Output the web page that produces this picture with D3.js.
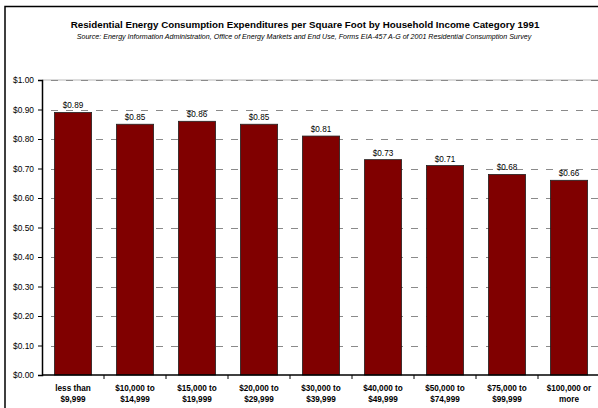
<!DOCTYPE html>
<html>
<head>
<meta charset="utf-8">
<script src="https://cdn.jsdelivr.net/npm/d3@7/dist/d3.min.js"></script>
<style>
  html, body { margin: 0; padding: 0; background: #fff; }
  svg { display: block; font-family: "Liberation Sans", Arial, sans-serif; }
</style>
</head>
<body>
<svg id="chart" width="598" height="408"></svg>
<script>
// Income brackets (two-line labels) and expenditure per square foot, 1991
const categories = [
  ["less than", "$9,999"],
  ["$10,000 to", "$14,999"],
  ["$15,000 to", "$19,999"],
  ["$20,000 to", "$29,999"],
  ["$30,000 to", "$39,999"],
  ["$40,000 to", "$49,999"],
  ["$50,000 to", "$74,999"],
  ["$75,000 to", "$99,999"],
  ["$100,000 or", "more"]
];
const values = [0.89, 0.85, 0.86, 0.85, 0.81, 0.73, 0.71, 0.68, 0.66];
const yTicks = [0, 0.1, 0.2, 0.3, 0.4, 0.5, 0.6, 0.7, 0.8, 0.9, 1.0];

const title = "Residential Energy Consumption Expenditures per Square Foot by Household Income Category 1991";
const subtitle = "Source: Energy Information Administration, Office of Energy Markets and End Use, Forms EIA-457 A-G of 2001 Residential Consumption Survey";

const svg = d3.select("#chart");
const plot = { left: 42, right: 600, top: 80, bottom: 375 };

// Outer frame (only top and left edges fall inside the view)
svg.append("path")
  .attr("d", "M5,420 V6.5 H620")
  .attr("fill", "none")
  .attr("stroke", "#000")
  .attr("stroke-width", 1.5);

svg.append("text")
  .attr("x", 305).attr("y", 28)
  .attr("text-anchor", "middle")
  .attr("font-size", 9.75).attr("font-weight", "bold")
  .text(title);

svg.append("text")
  .attr("x", 304).attr("y", 38.5)
  .attr("text-anchor", "middle")
  .attr("font-size", 7.1).attr("font-style", "italic")
  .text(subtitle);

const x = d3.scaleBand()
  .domain(d3.range(categories.length))
  .range([plot.left, plot.right])
  .paddingInner(0.4)
  .paddingOuter(0.2);

const y = d3.scaleLinear().domain([0, 1]).range([plot.bottom, plot.top]);

// Top border of plot area
svg.append("line")
  .attr("x1", plot.left).attr("x2", plot.right)
  .attr("y1", y(1)).attr("y2", y(1))
  .attr("stroke", "#b8b8b8").attr("stroke-width", 1);

// Dashed gridlines
svg.append("g")
  .selectAll("line")
  .data(yTicks.filter(d => d > 0))
  .join("line")
  .attr("x1", plot.left).attr("x2", plot.right)
  .attr("y1", d => Math.round(y(d)) + 0.5).attr("y2", d => Math.round(y(d)) + 0.5)
  .attr("stroke", "#8a8a8a")
  .attr("stroke-width", 1)
  .attr("stroke-dasharray", "7,8")
  .attr("stroke-dashoffset", -9);

// Bars
svg.append("g")
  .selectAll("rect")
  .data(values)
  .join("rect")
  .attr("x", (d, i) => x(i))
  .attr("y", d => y(d))
  .attr("width", x.bandwidth())
  .attr("height", d => y(0) - y(d))
  .attr("fill", "#800000")
  .attr("stroke", "#222")
  .attr("stroke-width", 0.8);

// Value labels
svg.append("g")
  .selectAll("text")
  .data(values)
  .join("text")
  .attr("x", (d, i) => x(i) + x.bandwidth() / 2)
  .attr("y", d => y(d) - 4)
  .attr("text-anchor", "middle")
  .attr("font-size", 8.2)
  .attr("fill", "#000")
  .text(d => d3.format("$.2f")(d));

// Y axis
const yAxis = d3.axisLeft(y)
  .tickValues(yTicks)
  .tickSize(4)
  .tickPadding(4)
  .tickFormat(d3.format("$.2f"));

const gy = svg.append("g")
  .attr("transform", `translate(${plot.left},0)`)
  .call(yAxis);
gy.select(".domain").attr("stroke", "#000").attr("stroke-width", 1.5);
gy.selectAll(".tick line").attr("stroke", "#000");
gy.selectAll(".tick text")
  .attr("font-family", "Liberation Sans, Arial, sans-serif")
  .attr("font-size", 8.4).attr("fill", "#000");

// X axis with ticks at category boundaries
const step = x.step();
const boundaries = d3.range(1, categories.length + 1).map(i => plot.left + i * step);
const gx = svg.append("g");
gx.append("line")
  .attr("x1", plot.left).attr("x2", plot.right)
  .attr("y1", plot.bottom).attr("y2", plot.bottom)
  .attr("stroke", "#000").attr("stroke-width", 1.5);
gx.selectAll(".btick")
  .data(boundaries)
  .join("line")
  .attr("class", "btick")
  .attr("x1", d => d).attr("x2", d => d)
  .attr("y1", plot.bottom).attr("y2", plot.bottom + 4)
  .attr("stroke", "#000");

const catLabels = svg.append("g")
  .selectAll("text")
  .data(categories)
  .join("text")
  .attr("x", (d, i) => x(i) + x.bandwidth() / 2)
  .attr("y", 391)
  .attr("text-anchor", "middle")
  .attr("font-size", 8.2)
  .attr("font-weight", "bold");
catLabels.each(function(d) {
  const t = d3.select(this);
  d.forEach((line, k) => {
    t.append("tspan")
      .attr("x", t.attr("x"))
      .attr("dy", k === 0 ? 0 : 11)
      .text(line);
  });
});
</script>
</body>
</html>
